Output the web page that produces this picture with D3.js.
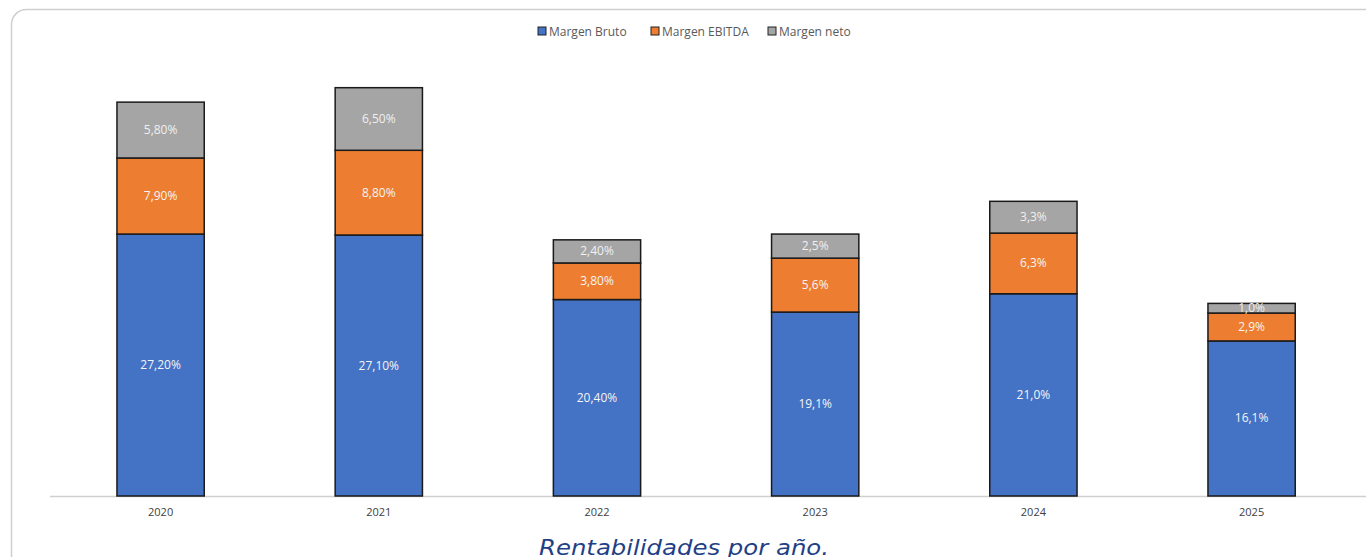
<!DOCTYPE html>
<html><head><meta charset="utf-8">
<script src="https://cdn.jsdelivr.net/npm/d3@7"></script>
<style>html,body{margin:0;padding:0;background:#fff;overflow:hidden}</style>
</head><body>
<svg id="c" width="1366" height="557"></svg>
<script>
const years = ["2020","2021","2022","2023","2024","2025"];
const seriesNames = ["Margen Bruto","Margen EBITDA","Margen neto"];
const margenBruto = [27.2, 27.1, 20.4, 19.1, 21.0, 16.1];
const margenEbitda = [7.9, 8.8, 3.8, 5.6, 6.3, 2.9];
const margenNeto = [5.8, 6.5, 2.4, 2.5, 3.3, 1.0];
const labelBruto = ["27,20%","27,10%","20,40%","19,1%","21,0%","16,1%"];
const labelEbitda = ["7,90%","8,80%","3,80%","5,6%","6,3%","2,9%"];
const labelNeto = ["5,80%","6,50%","2,40%","2,5%","3,3%","1,0%"];
const colors = ["#4472C4","#ED7D31","#A5A5A5"];

const svg = d3.select("#c");
// card border
svg.append("rect").attr("x",11.5).attr("y",9.5).attr("width",1400).attr("height",600)
  .attr("rx",15).attr("fill","#fff").attr("stroke","#cfcfcf").attr("stroke-width",1.5);

const x = d3.scaleBand().domain(years).range([51.5, 1360.7]).paddingInner(0.6).paddingOuter(0.3);
const y = d3.scaleLinear().domain([0, 45]).range([496, 496 - 45*9.63]);

const rows = years.map((yr,i)=>({year:yr, b:margenBruto[i], e:margenEbitda[i], n:margenNeto[i]}));
const stack = d3.stack().keys(["b","e","n"])(rows);
const labels = [labelBruto, labelEbitda, labelNeto];

// axis line
svg.append("line").attr("x1",50).attr("x2",1366).attr("y1",496.5).attr("y2",496.5)
  .attr("stroke","#d0d0d0").attr("stroke-width",1.5);

stack.forEach((layer, si) => {
  const g = svg.append("g");
  g.selectAll("rect").data(layer).join("rect")
    .attr("x", d => x(d.data.year))
    .attr("width", x.bandwidth())
    .attr("y", d => y(d[1]))
    .attr("height", d => y(d[0]) - y(d[1]))
    .attr("fill", colors[si])
    .attr("stroke", "#1a1a1a").attr("stroke-width", 1.5);
  g.selectAll("text").data(layer).join("text")
    .attr("x", d => x(d.data.year) + x.bandwidth()/2)
    .attr("y", d => (y(d[0]) + y(d[1]))/2 + 4)
    .attr("text-anchor","middle")
    .attr("font-family","'Open Sans', sans-serif").attr("font-size",12)
    .attr("fill", si===2 ? "#f0f0f0" : "#f5f5f5")
    .text((d,i) => labels[si][i]);
});

// x axis labels
const xa = svg.append("g").attr("transform","translate(0,496)")
  .call(d3.axisBottom(x).tickSize(0).tickPadding(12));
xa.select(".domain").remove();
xa.selectAll("text").attr("font-family","'Open Sans', sans-serif").attr("font-size",11).attr("fill","#404040");

// legend
const legend = svg.append("g");
const lx = [538, 651, 768];
seriesNames.forEach((n,i)=>{
  legend.append("rect").attr("x",lx[i]).attr("y",27).attr("width",8).attr("height",8)
    .attr("fill",colors[i]).attr("stroke","#222").attr("stroke-width",1);
  legend.append("text").attr("x",lx[i]+11).attr("y",35.5)
    .attr("font-family","'Open Sans', sans-serif").attr("font-size",12).attr("fill","#595959").text(n);
});

// caption
svg.append("text").attr("x",684).attr("y",555).attr("text-anchor","middle")
  .attr("font-family","'DejaVu Sans', sans-serif").attr("font-style","italic").attr("font-size",22)
  .attr("textLength",290).attr("lengthAdjust","spacingAndGlyphs")
  .attr("fill","#1f3f86").text("Rentabilidades por año.");
</script>
</body></html>
